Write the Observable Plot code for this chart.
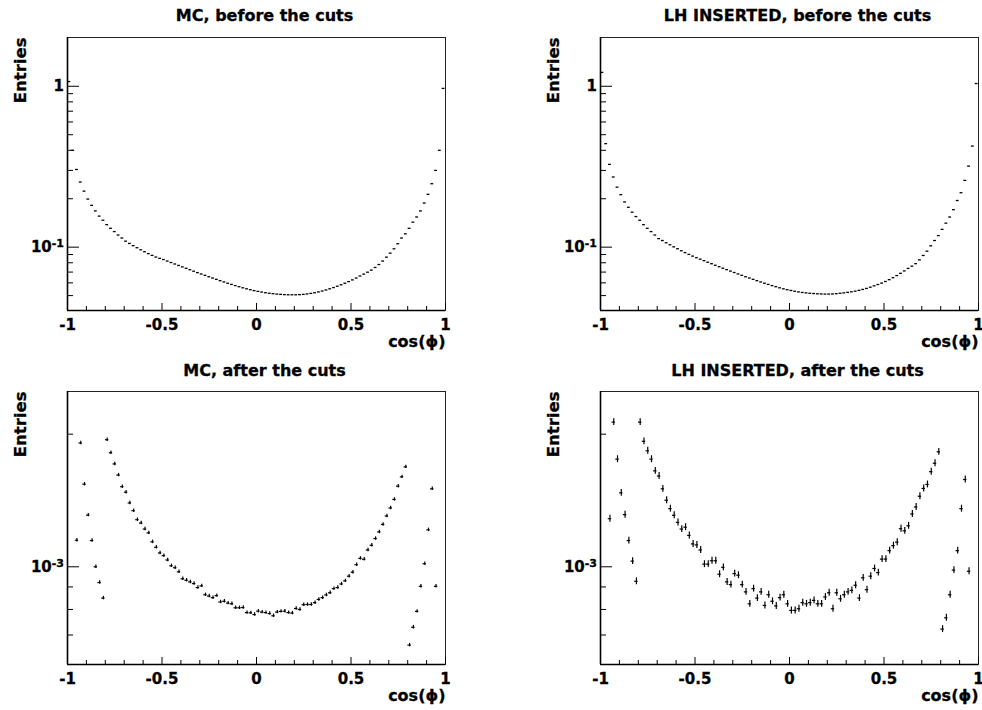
<!DOCTYPE html>
<html>
<head>
<meta charset="utf-8">
<script src="https://cdn.jsdelivr.net/npm/d3@7"></script>
<script src="https://cdn.jsdelivr.net/npm/@observablehq/plot@0.6"></script>
<style>
  body { margin: 0; background: #fff; }
  #grid { position: relative; width: 982px; height: 710px; background: #fff; }
  #grid svg { position: absolute; background: #fff; }
  #grid svg text { stroke: black; stroke-width: 0.3px; paint-order: stroke; }
</style>
</head>
<body>
<div id="grid"></div>
<script>
// ---- bins (cos phi, 100 bins of width 0.02) ----
const binCenters = [
  -0.99,-0.97,-0.95,-0.93,-0.91,-0.89,-0.87,-0.85,-0.83,-0.81,
  -0.79,-0.77,-0.75,-0.73,-0.71,-0.69,-0.67,-0.65,-0.63,-0.61,
  -0.59,-0.57,-0.55,-0.53,-0.51,-0.49,-0.47,-0.45,-0.43,-0.41,
  -0.39,-0.37,-0.35,-0.33,-0.31,-0.29,-0.27,-0.25,-0.23,-0.21,
  -0.19,-0.17,-0.15,-0.13,-0.11,-0.09,-0.07,-0.05,-0.03,-0.01,
   0.01, 0.03, 0.05, 0.07, 0.09, 0.11, 0.13, 0.15, 0.17, 0.19,
   0.21, 0.23, 0.25, 0.27, 0.29, 0.31, 0.33, 0.35, 0.37, 0.39,
   0.41, 0.43, 0.45, 0.47, 0.49, 0.51, 0.53, 0.55, 0.57, 0.59,
   0.61, 0.63, 0.65, 0.67, 0.69, 0.71, 0.73, 0.75, 0.77, 0.79,
   0.81, 0.83, 0.85, 0.87, 0.89, 0.91, 0.93, 0.95, 0.97, 0.99
];

// ---- MC, before the cuts ----
const mcBefore = [
  1.07, 0.40, 0.304, 0.254, 0.223, 0.199, 0.182, 0.168, 0.156, 0.147,
  0.138, 0.131, 0.125, 0.119, 0.114, 0.109, 0.1055, 0.1022, 0.0992, 0.0963,
  0.0937, 0.0912, 0.0889, 0.0868, 0.0852, 0.0838, 0.0820, 0.0803, 0.0786, 0.0770,
  0.0754, 0.0739, 0.0724, 0.0709, 0.0695, 0.0681, 0.0668, 0.0655, 0.0643, 0.0631,
  0.0619, 0.0608, 0.0597, 0.0587, 0.0577, 0.0568, 0.0559, 0.0551, 0.0544, 0.0537,
  0.0531, 0.0526, 0.0521, 0.0517, 0.0514, 0.0511, 0.0509, 0.0507, 0.0506, 0.0506,
  0.0506, 0.0507, 0.0509, 0.0512, 0.0516, 0.0521, 0.0527, 0.0534, 0.0542, 0.0551,
  0.0561, 0.0572, 0.0584, 0.0597, 0.0611, 0.0626, 0.0643, 0.0662, 0.0680, 0.0699,
  0.0720, 0.0748, 0.0780, 0.0820, 0.0867, 0.0918, 0.0977, 0.105, 0.114, 0.121,
  0.131, 0.143, 0.154, 0.168, 0.188, 0.213, 0.248, 0.300, 0.400, 0.97
];

// ---- LH INSERTED, before the cuts ----
const lhBefore = [
  1.22, 0.44, 0.327, 0.273, 0.236, 0.212, 0.191, 0.177, 0.165, 0.155,
  0.147, 0.138, 0.131, 0.125, 0.119, 0.113, 0.110, 0.1065, 0.1035, 0.1005,
  0.0978, 0.0950, 0.0925, 0.0902, 0.0880, 0.0860, 0.0842, 0.0824, 0.0806, 0.0789,
  0.0772, 0.0756, 0.0740, 0.0725, 0.0710, 0.0696, 0.0682, 0.0668, 0.0655, 0.0643,
  0.0631, 0.0619, 0.0608, 0.0597, 0.0587, 0.0577, 0.0568, 0.0559, 0.0551, 0.0544,
  0.0538, 0.0532, 0.0527, 0.0523, 0.0520, 0.0517, 0.0515, 0.0513, 0.0512, 0.0511,
  0.0511, 0.0512, 0.0514, 0.0517, 0.0520, 0.0524, 0.0528, 0.0533, 0.0539, 0.0546,
  0.0554, 0.0564, 0.0575, 0.0586, 0.0598, 0.0612, 0.0628, 0.0646, 0.0666, 0.0688,
  0.0712, 0.0738, 0.0762, 0.0790, 0.0834, 0.0888, 0.0944, 0.102, 0.110, 0.118,
  0.129, 0.141, 0.154, 0.171, 0.195, 0.218, 0.260, 0.319, 0.425, 1.04
];

// ---- MC, after the cuts ----
const mcAfter = [
  null, null, 1.149e-3, 1.91e-3, 1.54e-3, 1.31e-3, 1.147e-3, 1.00e-3, 0.921e-3, 0.849e-3,
  1.943e-3, 1.815e-3, 1.712e-3, 1.615e-3, 1.52e-3, 1.477e-3, 1.396e-3, 1.341e-3, 1.279e-3, 1.257e-3,
  1.218e-3, 1.194e-3, 1.139e-3, 1.107e-3, 1.075e-3, 1.06e-3, 1.036e-3, 1.005e-3, 0.995e-3, 0.974e-3,
  0.939e-3, 0.932e-3, 0.924e-3, 0.916e-3, 0.897e-3, 0.905e-3, 0.864e-3, 0.858e-3, 0.851e-3, 0.860e-3,
  0.832e-3, 0.835e-3, 0.827e-3, 0.824e-3, 0.807e-3, 0.807e-3, 0.808e-3, 0.787e-3, 0.786e-3, 0.779e-3,
  0.793e-3, 0.789e-3, 0.787e-3, 0.783e-3, 0.774e-3, 0.789e-3, 0.792e-3, 0.793e-3, 0.787e-3, 0.785e-3,
  0.804e-3, 0.800e-3, 0.820e-3, 0.821e-3, 0.821e-3, 0.829e-3, 0.843e-3, 0.851e-3, 0.863e-3, 0.873e-3,
  0.892e-3, 0.897e-3, 0.914e-3, 0.929e-3, 0.952e-3, 0.972e-3, 1.011e-3, 1.045e-3, 1.04e-3, 1.092e-3,
  1.119e-3, 1.159e-3, 1.20e-3, 1.248e-3, 1.304e-3, 1.36e-3, 1.422e-3, 1.524e-3, 1.60e-3, 1.686e-3,
  0.664e-3, 0.729e-3, 0.792e-3, 0.903e-3, 1.016e-3, 1.213e-3, 1.503e-3, 0.903e-3, null, null
];

// ---- LH INSERTED, after the cuts ----
const lhAfter = [
  null, null, 1.286e-3, 2.13e-3, 1.755e-3, 1.472e-3, 1.313e-3, 1.147e-3, 1.03e-3, 0.927e-3,
  2.13e-3, 1.927e-3, 1.834e-3, 1.755e-3, 1.651e-3, 1.607e-3, 1.503e-3, 1.416e-3, 1.355e-3, 1.309e-3,
  1.261e-3, 1.218e-3, 1.230e-3, 1.178e-3, 1.127e-3, 1.121e-3, 1.092e-3, 1.014e-3, 1.014e-3, 1.032e-3,
  1.032e-3, 0.962e-3, 0.997e-3, 0.924e-3, 0.911e-3, 0.965e-3, 0.957e-3, 0.911e-3, 0.877e-3, 0.824e-3,
  0.892e-3, 0.849e-3, 0.877e-3, 0.817e-3, 0.864e-3, 0.835e-3, 0.815e-3, 0.851e-3, 0.864e-3, 0.824e-3,
  0.796e-3, 0.796e-3, 0.803e-3, 0.829e-3, 0.824e-3, 0.829e-3, 0.839e-3, 0.824e-3, 0.824e-3, 0.854e-3,
  0.873e-3, 0.803e-3, 0.873e-3, 0.846e-3, 0.864e-3, 0.877e-3, 0.884e-3, 0.908e-3, 0.849e-3, 0.944e-3,
  0.887e-3, 0.952e-3, 0.991e-3, 0.970e-3, 1.041e-3, 1.041e-3, 1.088e-3, 1.117e-3, 1.137e-3, 1.22e-3,
  1.207e-3, 1.239e-3, 1.318e-3, 1.367e-3, 1.446e-3, 1.506e-3, 1.538e-3, 1.644e-3, 1.718e-3, 1.824e-3,
  0.722e-3, 0.766e-3, 0.864e-3, 0.983e-3, 1.088e-3, 1.355e-3, 1.578e-3, 0.977e-3, null, null
];

// relative error bar half-length per panel
const relErrors = [0, 0, 0.009, 0.018];

// ---- tick definitions ----
const xMajorTicks = [-1, -0.5, 0, 0.5, 1];
const xMinorTicks = [-0.9, -0.8, -0.7, -0.6, -0.4, -0.3, -0.2, -0.1, 0.1, 0.2, 0.3, 0.4, 0.6, 0.7, 0.8, 0.9];
const yMajorBefore = [0.1, 1];
const yMinorBefore = [0.05, 0.06, 0.07, 0.08, 0.09, 0.2, 0.3, 0.4, 0.5, 0.6, 0.7, 0.8, 0.9];
const yMajorAfter = [1e-3];
const yMinorAfter = [7e-4, 8e-4, 9e-4, 2e-3];
const yLabelsBefore = {"0.1": "10^-1", "1": "1"};
const yLabelsAfter = {"0.001": "10^-3"};

const titles = ["MC, before the cuts", "LH INSERTED, before the cuts", "MC, after the cuts", "LH INSERTED, after the cuts"];
const series = [mcBefore, lhBefore, mcAfter, lhAfter];

const FONT = "'DejaVu Sans', sans-serif";

const layout = [
  {left: 0,   top: 0,   mL: 67,  mR: 46, mT: 37, mB: 45, yDomain: [0.0404, 2.01], yMajor: yMajorBefore, yMinor: yMinorBefore, yLab: yLabelsBefore, titleDy: -21.6, hw: 0.0075},
  {left: 491, top: 0,   mL: 109, mR: 4,  mT: 37, mB: 45, yDomain: [0.0404, 2.01], yMajor: yMajorBefore, yMinor: yMinorBefore, yLab: yLabelsBefore, titleDy: -21.6, hw: 0.0075},
  {left: 0,   top: 355, mL: 67,  mR: 46, mT: 36, mB: 46, yDomain: [6.0e-4, 2.5e-3], yMajor: yMajorAfter, yMinor: yMinorAfter, yLab: yLabelsAfter, titleDy: -20.6, hw: 0.009},
  {left: 491, top: 355, mL: 109, mR: 4,  mT: 36, mB: 46, yDomain: [6.0e-4, 2.5e-3], yMajor: yMajorAfter, yMinor: yMinorAfter, yLab: yLabelsAfter, titleDy: -20.6, hw: 0.009}
];

const grid = document.getElementById("grid");

layout.forEach((L, i) => {
  const data = binCenters.map((x, j) => ({x, v: series[i][j]})).filter(d => d.v != null);
  const e = relErrors[i];
  const sw = i < 2 ? 1.3 : 1.2;
  const marks = [
    Plot.frame({stroke: "#222", strokeWidth: 1}),
    Plot.ruleX([-1], {stroke: "black", strokeWidth: 1.6}),
    Plot.ruleY([L.yDomain[0]], {stroke: "black", strokeWidth: 1.6}),
    // x ticks (inward)
    Plot.axisX({ticks: xMajorTicks, tickSize: -7, tickFormat: () => "", label: null}),
    Plot.axisX({ticks: xMinorTicks, tickSize: -4, tickFormat: () => "", label: null}),
    Plot.axisX({ticks: xMajorTicks, tickSize: 0, tickPadding: 9, tickFormat: d => String(d), label: null, fontSize: 15}),
    // y ticks (inward)
    Plot.axisY({ticks: L.yMajor, tickSize: -12, tickFormat: () => "", label: null}),
    Plot.axisY({ticks: L.yMinor, tickSize: -6, tickFormat: () => "", label: null}),
    Plot.axisY({ticks: L.yMajor, tickSize: 0, tickPadding: 3.5, tickFormat: d => L.yLab[String(d)], label: null, fontSize: 15}),
    // histogram markers: horizontal bin bars
    Plot.ruleY(data, {y: "v", x1: d => d.x - L.hw, x2: d => d.x + L.hw, stroke: "black", strokeWidth: sw})
  ];
  if (e > 0) {
    marks.push(Plot.ruleX(data, {x: "x", y1: d => d.v * (1 - e), y2: d => d.v * (1 + e), stroke: "black", strokeWidth: sw}));
  }
  marks.push(
    Plot.text([titles[i]], {frameAnchor: "top", lineAnchor: "middle", dx: 8, dy: L.titleDy, fontSize: 16, fontWeight: "bold"}),
    Plot.text(["Entries"], {frameAnchor: "top-left", lineAnchor: "middle", rotate: -90, textAnchor: "end", dx: -47, fontSize: 16.5, fontWeight: "bold"}),
    Plot.text(["cos(\u03D5)"], {frameAnchor: "bottom-right", lineAnchor: "middle", textAnchor: "end", dy: 31.8, fontSize: 16, fontWeight: "bold"})
  );

  const svg = Plot.plot({
    width: 491,
    height: 355,
    marginLeft: L.mL,
    marginRight: L.mR,
    marginTop: L.mT,
    marginBottom: L.mB,
    x: {domain: [-1, 1]},
    y: {type: "log", domain: L.yDomain},
    style: {fontFamily: FONT, fontWeight: "bold", fontSize: "15px", color: "black", background: "white", overflow: "visible"},
    marks
  });
  svg.style.left = L.left + "px";
  svg.style.top = L.top + "px";

  // superscripts for 10^n labels
  svg.querySelectorAll("text").forEach(t => {
    const m = (t.textContent || "").match(/^10\^(.+)$/);
    if (m) {
      t.textContent = "10";
      const ts = document.createElementNS("http://www.w3.org/2000/svg", "tspan");
      ts.setAttribute("dy", "-0.45em");
      ts.setAttribute("font-size", "11px");
      ts.textContent = m[1];
      t.appendChild(ts);
    }
  });
  grid.appendChild(svg);
});
</script>
</body>
</html>
